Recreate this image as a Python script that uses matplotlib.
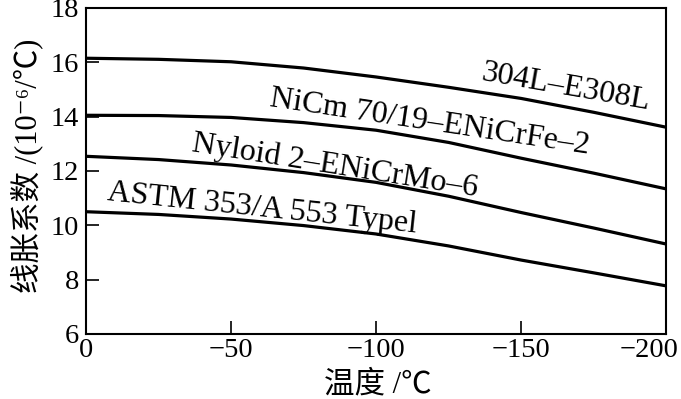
import matplotlib
matplotlib.use("Agg")
import matplotlib.pyplot as plt
from matplotlib.transforms import ScaledTranslation

plt.rcParams['font.family'] = ['Liberation Serif', 'Noto Sans CJK SC', 'DejaVu Sans']

temps = [0, -25, -50, -75, -100, -125, -150, -175, -200]
s304L = [16.15, 16.11, 16.02, 15.79, 15.46, 15.08, 14.67, 14.16, 13.61]
nicm = [14.05, 14.04, 13.97, 13.78, 13.50, 13.05, 12.47, 11.92, 11.34]
nyloid = [12.54, 12.42, 12.22, 11.94, 11.58, 11.07, 10.47, 9.90, 9.31]
astm = [10.50, 10.40, 10.23, 9.99, 9.68, 9.24, 8.72, 8.25, 7.77]

series = [s304L, nicm, nyloid, astm]
labels = ["304L\u2013E308L", "NiCm 70/19\u2013ENiCrFe\u20132",
          "Nyloid 2\u2013ENiCrMo\u20136", "ASTM 353/A 553 Typel"]
label_pos = [(-165.2, 15.08, -10), (-118.6, 13.8, -8.5), (-85.9, 12.2, -9), (-60.7, 10.6, -6)]

xticks = [0, -50, -100, -150, -200]
xticklabels = ["0", "\u221250", "\u2212100", "\u2212150", "\u2212200"]
yticks = [6, 8, 10, 12, 14, 16, 18]

fig = plt.figure(figsize=(6.81, 3.99), dpi=100)
ax = fig.add_axes([0.1263, 0.163, 0.852, 0.817])

for ys in series:
    ax.plot(temps, ys, color='black', lw=2.3, solid_capstyle='butt')

for (x, y, r), t in zip(label_pos, labels):
    ax.text(x, y, t, rotation=r, rotation_mode='anchor', ha='center', va='center',
            fontsize=23, family='Liberation Serif')

ax.set_xlim(0, -200)
ax.set_ylim(6, 18)
ax.set_xticks(xticks)
ax.set_xticklabels(xticklabels)
ax.set_yticks(yticks)
ax.tick_params(direction='in', length=9.5, width=1.2, labelsize=20.5, pad=5)
ax.tick_params(axis='x', pad=3)
for sp in ax.spines.values():
    sp.set_linewidth(1.5)

last = ax.get_xticklabels()[-1]
last.set_transform(last.get_transform() + ScaledTranslation(-0.17, 0, fig.dpi_scale_trans))

fig.text(378 / 681, 1 - 385 / 399, "温度 /\u2103", fontsize=22, ha='center', va='center')
fig.text(27 / 681, 1 - 166 / 399, "线胀系数 /(10\u207b\u2076/\u2103)", fontsize=22,
         ha='center', va='center', rotation=90)

fig.savefig("out.png", dpi=100)
